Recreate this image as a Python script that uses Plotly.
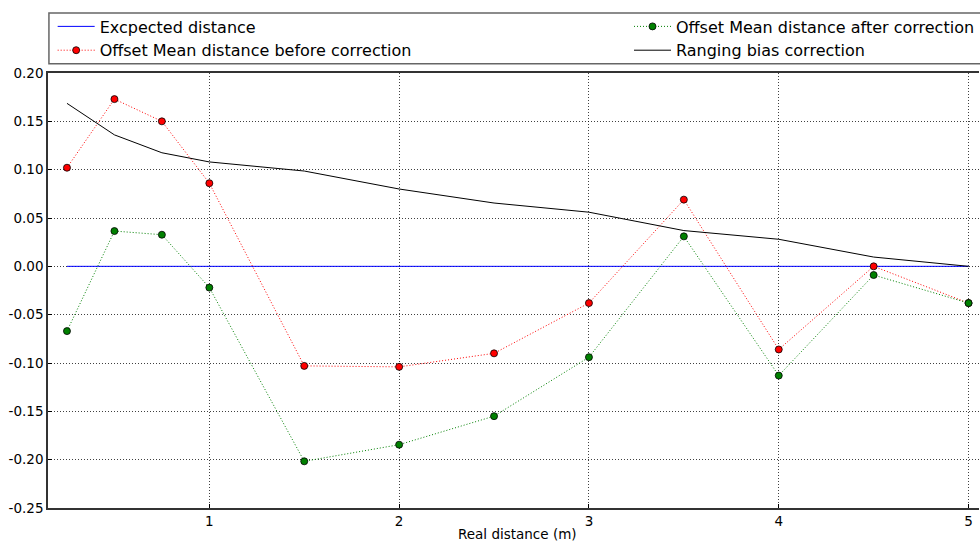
import plotly.graph_objects as go

# Measured distances (m)
distance = [0.25, 0.5, 0.75, 1.0, 1.5, 2.0, 2.5, 3.0, 3.5, 4.0, 4.5, 5.0]

# Offsets of the mean measured distance (m)
offset_before = [0.102, 0.173, 0.150, 0.086, -0.103, -0.104, -0.090, -0.038, 0.069, -0.086, 0.000, -0.038]
offset_after = [-0.067, 0.0365, 0.0327, -0.022, -0.2017, -0.1845, -0.155, -0.094, 0.031, -0.113, -0.009, -0.038]
bias_correction = [0.1686, 0.136, 0.1175, 0.108, 0.0986, 0.080, 0.0655, 0.056, 0.0370, 0.028, 0.0096, 0.000]
expected = [0.0] * len(distance)

y_ticks = [0.20, 0.15, 0.10, 0.05, 0.00, -0.05, -0.10, -0.15, -0.20, -0.25]
y_tick_labels = ["0.20", "0.15", "0.10", "0.05", "0.00", "-0.05", "-0.10", "-0.15", "-0.20", "-0.25"]
x_ticks = [1, 2, 3, 4, 5]
x_tick_labels = ["1", "2", "3", "4", "5"]

FONT = "DejaVu Sans"
DOT = "1px,2px"

fig = go.Figure()

fig.add_trace(go.Scatter(
    x=distance, y=expected, mode="lines", name="Excpected distance",
    line=dict(color="#0000ff", width=1), legend="legend", legendrank=1,
))
fig.add_trace(go.Scatter(
    x=distance, y=offset_before, mode="lines+markers",
    name="Offset Mean distance before correction",
    line=dict(color="#ff0000", width=1, dash=DOT),
    marker=dict(color="#ff0000", size=7, line=dict(color="#000000", width=0.8)),
    legend="legend", legendrank=2,
))
fig.add_trace(go.Scatter(
    x=distance, y=offset_after, mode="lines+markers",
    name="Offset Mean distance after correction",
    line=dict(color="#008000", width=1, dash=DOT),
    marker=dict(color="#008000", size=7, line=dict(color="#000000", width=0.8)),
    legend="legend2", legendrank=1,
))
fig.add_trace(go.Scatter(
    x=distance, y=bias_correction, mode="lines", name="Ranging bias correction",
    line=dict(color="#000000", width=1), legend="legend2", legendrank=2,
))

# Legend frame
fig.add_shape(
    type="rect", xref="paper", yref="paper",
    x0=0.001, x1=1.02, y0=1.021, y1=1.138,
    line=dict(color="#666666", width=1.5), fillcolor="rgba(0,0,0,0)",
)

fig.add_annotation(
    text="Real distance (m)", xref="paper", yref="paper",
    x=0.504, y=-0.036, xanchor="center", yanchor="top", showarrow=False,
    font=dict(family=FONT, size=13.5, color="#000000"),
)

legend_common = dict(
    orientation="v", yanchor="top", xanchor="left", y=1.146,
    font=dict(family=FONT, size=16, color="#000000"),
    bgcolor="rgba(0,0,0,0)", borderwidth=0, itemwidth=37,
    tracegroupgap=0,
)

fig.update_layout(
    width=980, height=541,
    margin=dict(l=48, r=0, t=73, b=33),
    paper_bgcolor="white", plot_bgcolor="white",
    font=dict(family=FONT, size=13.5, color="#000000"),
    showlegend=True,
    legend=dict(x=0.005, **legend_common),
    legend2=dict(x=0.624, **legend_common),
    xaxis=dict(
        range=[0.15, 5.055],
        tickvals=x_ticks, ticktext=x_tick_labels,
        showgrid=True, gridcolor="rgba(0,0,0,0.75)", gridwidth=1, griddash=DOT,
        showline=True, linecolor="#333333", linewidth=1.5, mirror=True,
        ticks="inside", ticklen=4, tickcolor="#000000",
        zeroline=False, tickfont=dict(family=FONT, size=13.5),
    ),
    yaxis=dict(
        range=[-0.25, 0.20],
        tickvals=y_ticks, ticktext=y_tick_labels,
        showgrid=True, gridcolor="rgba(0,0,0,0.75)", gridwidth=1, griddash=DOT,
        showline=True, linecolor="#333333", linewidth=1.5,
        ticks="inside", ticklen=4, tickcolor="#000000",
        zeroline=False, tickfont=dict(family=FONT, size=13.5),
    ),
)

fig.write_html("out.html")
